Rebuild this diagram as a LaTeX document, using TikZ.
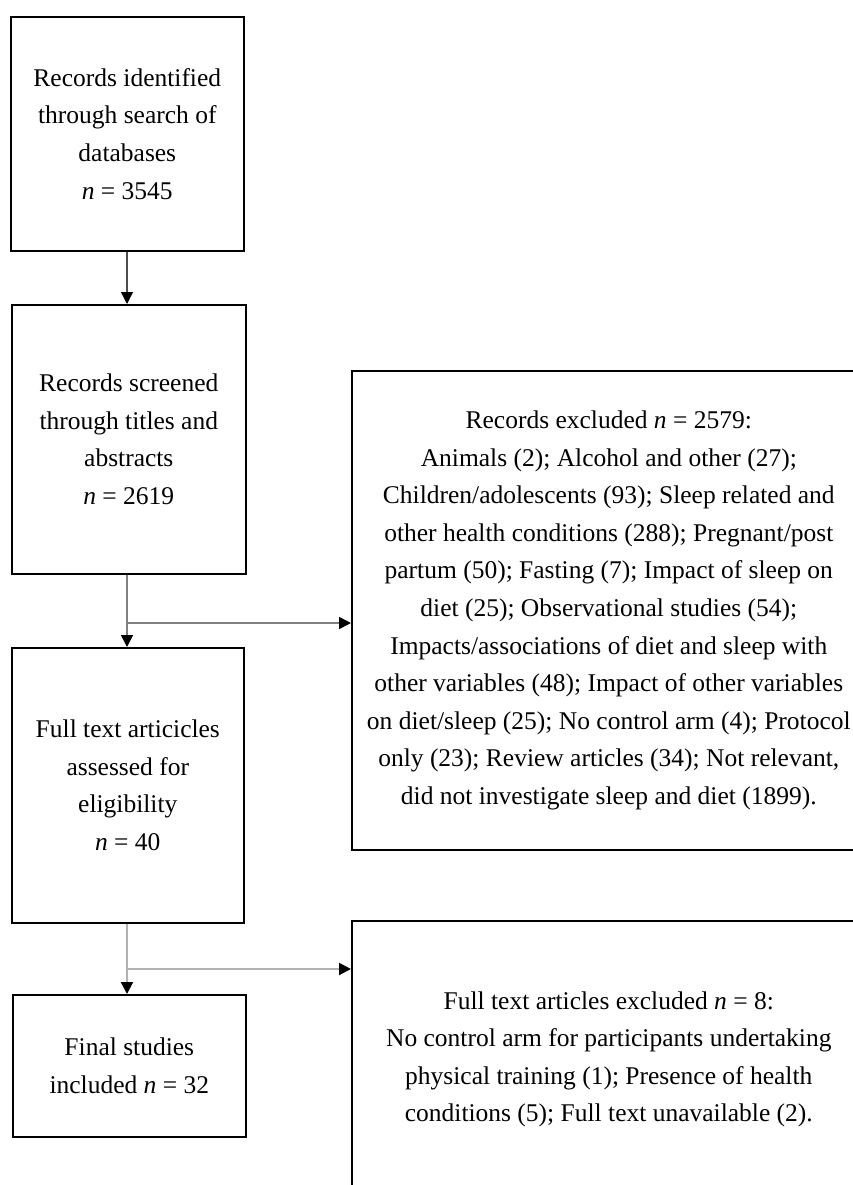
\documentclass[tikz,border=0pt]{standalone}
\usepackage{fontspec}
\setmainfont{Liberation Serif}
\usetikzlibrary{arrows.meta}
\begin{document}
\begin{tikzpicture}[x=1pt,y=-1pt,
  box/.style={draw=black, line width=1.6pt, inner sep=0pt, align=center,
    font=\fontsize{25.5}{37.6}\selectfont, anchor=north west},
  tip/.style={-{Triangle[length=12pt,width=12pt,color=black]}},
  linea/.style={draw=black!70, line width=1.3pt},
  lineb/.style={draw=black!50, line width=1.6pt},
  linec/.style={draw=black!30, line width=2pt}]
\path[use as bounding box] (0,0) rectangle (853,1185);
\clip (0,0) rectangle (853,1185);
\fill[white] (0,0) rectangle (853,1185);

\node[box, minimum width=233pt, minimum height=234pt] (b1) at (10,16)
  {Records identified\\through search of\\databases\\\textit{n} = 3545};
\node[box, minimum width=234pt, minimum height=269pt] (b2) at (11,304)
  {Records screened\\through titles and\\abstracts\\\textit{n} = 2619};
\node[box, minimum width=232pt, minimum height=275pt] (b3) at (11,647)
  {Full text articicles\\assessed for\\eligibility\\\textit{n} = 40};
\node[box, minimum width=233pt, minimum height=142pt] (b4) at (12,994)
  {Final studies\\included \textit{n} = 32};

\node[box, minimum width=514pt, minimum height=479pt] (r1) at (351,370)
  {Records excluded \textit{n} = 2579:\\
   Animals (2); Alcohol and other (27);\\
   Children/adolescents (93); Sleep related and\\
   other health conditions (288); Pregnant/post\\
   partum (50); Fasting (7); Impact of sleep on\\
   diet (25); Observational studies (54);\\
   Impacts/associations of diet and sleep with\\
   other variables (48); Impact of other variables\\
   on diet/sleep (25); No control arm (4); Protocol\\
   only (23); Review articles (34); Not relevant,\\
   did not investigate sleep and diet (1899).};
\node[box, minimum width=514pt, minimum height=277pt] (r2) at (351,920)
  {Full text articles excluded \textit{n} = 8:\\
   No control arm for participants undertaking\\
   physical training (1); Presence of health\\
   conditions (5); Full text unavailable (2).};

\coordinate (j1) at (127,623);
\coordinate (j2) at (127,969);

\draw[linea, tip] (b1.south -| j1) -- (b2.north -| j1);
\draw[lineb] (b2.south -| j1) -- (j1);
\draw[lineb, tip] (j1) -- (b3.north -| j1);
\draw[lineb, tip] (j1) -- (j1 -| r1.west);
\draw[linec] (b3.south -| j2) -- (j2);
\draw[linec, tip] (j2) -- (b4.north -| j2);
\draw[linec, tip] (j2) -- (j2 -| r2.west);
\end{tikzpicture}
\end{document}
